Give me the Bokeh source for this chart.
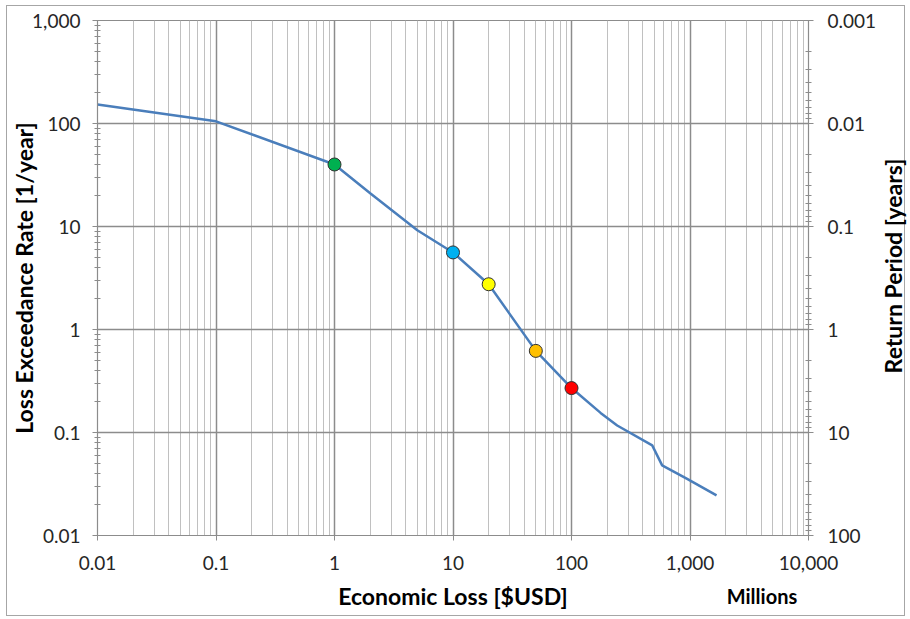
from bokeh.plotting import figure
from bokeh.layouts import column
from bokeh.models import (FixedTicker, NumeralTickFormatter, LogAxis, Range1d,
                          LogScale, ColumnDataSource, Div)
from bokeh.embed import file_html
from bokeh.resources import INLINE

# Loss exceedance curve: economic loss (millions of USD) vs. annual exceedance rate
loss_musd = [0.01, 0.1, 1, 2, 5, 10, 20, 50, 100, 176, 243, 480, 582, 946, 1675]
exceed_rate = [153, 105, 40, 21, 9.2, 5.6, 2.75, 0.62, 0.27, 0.155, 0.117,
               0.075, 0.048, 0.0355, 0.0245]

# Highlighted scenario points on the curve
marker_loss = [1, 10, 20, 50, 100]
marker_rate = [40, 5.6, 2.75, 0.62, 0.27]
marker_colors = ["#00b050", "#00b0f0", "#ffff00", "#ffc000", "#ff0000"]

# Axis ticks
x_ticks = [0.01, 0.1, 1, 10, 100, 1000, 10000]
y_ticks = [0.01, 0.1, 1, 10, 100, 1000]
rp_ticks = [0.001, 0.01, 0.1, 1, 10, 100]


def minor_between(majors):
    out = []
    for v in majors[:-1]:
        out += [round(v * m, 6) for m in range(2, 10)]
    return out


FONT = "Lato"
TICK_COLOR = "#262626"
GRID_MAJOR = "#8c8c8c"
GRID_MINOR = "#c0c0c0"

p = figure(width=897, height=609, x_axis_type="log", y_axis_type="log",
           x_range=Range1d(0.01, 10000), y_range=Range1d(0.01, 1000),
           output_backend="svg", toolbar_location=None,
           min_border_left=90, min_border_right=96,
           min_border_top=14, min_border_bottom=80)
p.outline_line_color = GRID_MAJOR
p.background_fill_color = "white"
p.border_fill_color = "white"

# Return period axis on the right (1 / rate), reversed log scale
p.extra_y_ranges = {"rp": Range1d(start=100, end=0.001)}
p.extra_y_scales = {"rp": LogScale()}

# Grid
p.xgrid.ticker = FixedTicker(ticks=x_ticks, minor_ticks=minor_between(x_ticks))
p.ygrid.ticker = FixedTicker(ticks=y_ticks, minor_ticks=minor_between(y_ticks))
p.xgrid.grid_line_color = GRID_MAJOR
p.xgrid.grid_line_width = 1.5
p.xgrid.minor_grid_line_color = GRID_MINOR
p.xgrid.minor_grid_line_width = 1
p.ygrid.grid_line_color = GRID_MAJOR
p.ygrid.grid_line_width = 1.5
p.ygrid.minor_grid_line_color = None


def style_axis(ax, standoff):
    ax.axis_line_color = GRID_MAJOR
    ax.axis_line_width = 1.2
    ax.major_tick_line_color = GRID_MAJOR
    ax.minor_tick_line_color = GRID_MAJOR
    ax.major_tick_in = 5
    ax.major_tick_out = 5
    ax.major_label_text_font = FONT
    ax.major_label_text_font_size = "19px"
    ax.major_label_text_color = TICK_COLOR
    ax.major_label_standoff = standoff
    ax.axis_label_text_font = FONT
    ax.axis_label_text_font_size = "23px"
    ax.axis_label_text_font_style = "bold"
    ax.axis_label_text_color = "black"


fmt = NumeralTickFormatter(format="0,0.[000]")

xa = p.xaxis[0]
xa.ticker = FixedTicker(ticks=x_ticks, minor_ticks=minor_between(x_ticks))
xa.formatter = fmt
style_axis(xa, 15)
xa.minor_tick_in = 0
xa.minor_tick_out = 0
xa.axis_label = "Economic Loss [$USD]"
xa.axis_label_standoff = 9

ya = p.yaxis[0]
ya.ticker = FixedTicker(ticks=y_ticks, minor_ticks=minor_between(y_ticks))
ya.formatter = fmt
style_axis(ya, 12)
ya.minor_tick_in = 3
ya.minor_tick_out = 3
ya.axis_label = "Loss Exceedance Rate [1/year]"
ya.axis_label_standoff = -9

ra = LogAxis(y_range_name="rp",
             ticker=FixedTicker(ticks=rp_ticks, minor_ticks=minor_between(rp_ticks)),
             formatter=fmt)
style_axis(ra, 14)
ra.minor_tick_in = 3
ra.minor_tick_out = 3
p.add_layout(ra, "right")

# Curve and highlighted points
p.line(loss_musd, exceed_rate, line_color="#4a7ebb", line_width=2.5)
pts = ColumnDataSource(dict(x=marker_loss, y=marker_rate, c=marker_colors))
p.scatter("x", "y", source=pts, size=13, fill_color="c",
          line_color="#303030", line_width=1)

# Text set in the margins: right-axis title (reading upwards) and units note
margin_text = Div(
    text=(
        '<div style="position:absolute; left:766px; top:245px; width:240px; '
        'height:30px; line-height:30px; text-align:center; '
        'transform:rotate(-90deg); white-space:nowrap; font-family:Lato; '
        'font-weight:bold; font-size:23px; color:black;">Return Period [years]</div>'
        '<div style="position:absolute; left:705px; top:577px; width:100px; '
        'height:26px; line-height:26px; text-align:center; white-space:nowrap; '
        'font-family:Lato; font-weight:bold; font-size:20px; color:black;">Millions</div>'
    ),
    margin=0,
    styles={"position": "absolute", "left": "0px", "top": "0px",
            "width": "897px", "height": "609px", "pointer-events": "none"},
)

# Chart with a thin frame around it
layout = column(p, margin_text,
                styles={"border": "1px solid #a6a6a6", "margin-left": "6px",
                        "margin-top": "5px", "position": "relative"})

open("out.html", "w").write(file_html(layout, INLINE))
